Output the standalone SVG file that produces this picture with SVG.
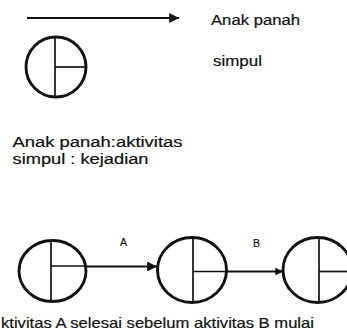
<svg xmlns="http://www.w3.org/2000/svg" width="347" height="334" viewBox="0 0 347 334">
<defs>
<style>
.node{fill:none;stroke:#111;stroke-width:2.9}
.div{fill:none;stroke:#111;stroke-width:1.7}
.edge{fill:none;stroke:#111;stroke-width:2.2}
.t{font-family:"Liberation Sans",Arial,sans-serif;fill:#111;stroke:#111;stroke-width:0.2}
</style>
<marker id="ah" viewBox="0 0 10 10" refX="10" refY="5" markerWidth="5" markerHeight="4.5" markerUnits="strokeWidth" orient="auto">
<path d="M0,0 L10,5 L0,10 Z" fill="#111"/>
</marker>
<marker id="ahs" viewBox="0 0 10 10" refX="10" refY="5" markerWidth="3.5" markerHeight="3.5" markerUnits="strokeWidth" orient="auto">
<path d="M0,0 L10,5 L0,10 Z" fill="#111"/>
</marker>
</defs>
<rect width="347" height="334" fill="#fff"/>

<g id="legend">
<g id="legend-arrow">
<line class="edge" x1="27" y1="18" x2="179" y2="18" marker-end="url(#ah)"/>
<text class="t" x="211" y="25" font-size="14" textLength="89" lengthAdjust="spacingAndGlyphs">Anak panah</text>
</g>
<g id="legend-node">
<circle class="node" cx="56" cy="67" r="30"/>
<line class="div" x1="55" y1="37" x2="55" y2="97"/>
<line class="div" x1="55" y1="67" x2="86" y2="67"/>
<text class="t" x="213" y="66" font-size="14" textLength="49" lengthAdjust="spacingAndGlyphs">simpul</text>
</g>
<text class="t" x="12.5" y="147" font-size="14" textLength="170" lengthAdjust="spacingAndGlyphs">Anak panah:aktivitas</text>
<text class="t" x="12.5" y="163.5" font-size="14" textLength="136" lengthAdjust="spacingAndGlyphs">simpul : kejadian</text>
</g>

<g id="connectors">
<line class="edge" x1="87" y1="266.5" x2="157" y2="266.5" marker-end="url(#ah)"/>
<text class="t" x="120" y="246" font-size="10.5">A</text>
<line class="edge" x1="227" y1="271.5" x2="283" y2="271.5" marker-end="url(#ahs)"/>
<text class="t" x="253" y="247" font-size="10.5">B</text>
</g>

<g id="node1">
<ellipse class="node" cx="52.5" cy="271" rx="33.5" ry="30.5"/>
<line class="div" x1="51" y1="240.5" x2="51" y2="301.5"/>
<line class="div" x1="51" y1="266" x2="86" y2="266"/>
</g>
<g id="node2">
<ellipse class="node" cx="192" cy="270" rx="34.5" ry="32.5"/>
<line class="div" x1="193" y1="237.5" x2="193" y2="302.5"/>
<line class="div" x1="193" y1="271.5" x2="226" y2="271.5"/>
</g>
<g id="node3">
<ellipse class="node" cx="317.5" cy="270" rx="34.5" ry="32.5"/>
<line class="div" x1="319" y1="237.5" x2="319" y2="302.5"/>
<line class="div" x1="319" y1="271.5" x2="347" y2="271.5"/>
</g>

<text class="t" x="1" y="328" font-size="14.5" textLength="313" lengthAdjust="spacingAndGlyphs">ktivitas A selesai sebelum aktivitas B mulai</text>
</svg>
